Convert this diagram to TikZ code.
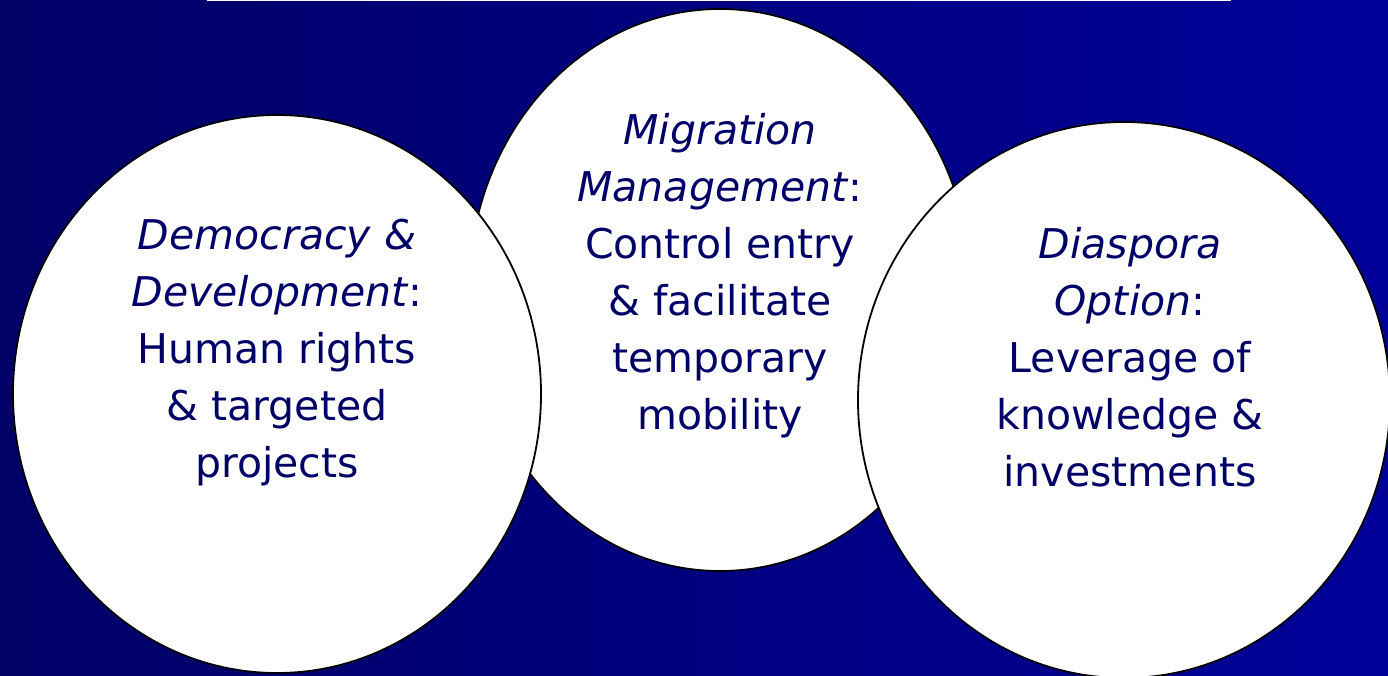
\documentclass[tikz,border=0pt]{standalone}
\usepackage{fontspec}
\setmainfont{DejaVu Sans}
\definecolor{bgleft}{RGB}{0,0,102}
\definecolor{bgright}{RGB}{0,0,153}
\definecolor{inktext}{RGB}{0,0,102}
\begin{document}
\begin{tikzpicture}[x=1pt,y=-1pt,
  bubble/.style={draw=black,line width=1.8pt,fill=white},
  bubbletext/.style={text=inktext,align=center,font=\fontsize{41}{57}\selectfont,inner sep=0pt}]
  % background
  \fill[left color=bgleft,right color=bgright] (0,0) rectangle (1388,676);
  \useasboundingbox (0,0) rectangle (1388,676);
  % thin rule along the top
  \fill[white] (207,0) rectangle (1231,1.5);
  % circles: the middle one sits underneath the two outer ones
  \draw[bubble] (720,290) ellipse [x radius=251pt, y radius=281pt];
  \draw[bubble] (277,394) ellipse [x radius=264pt, y radius=279pt];
  \draw[bubble] (1124,400) ellipse [x radius=266pt, y radius=278pt];
  % labels
  \node[bubbletext] (dem) at (277,353) {\textit{Democracy \&}\\\textit{Development}:\\Human rights\\\& targeted\\projects};
  \node[bubbletext] (mig) at (720,276) {\textit{Migration}\\\textit{Management}:\\Control entry\\\& facilitate\\temporary\\mobility};
  \node[bubbletext] (dia) at (1130,357) {\textit{Diaspora}\\\textit{Option}:\\Leverage of\\knowledge \&\\investments};
\end{tikzpicture}
\end{document}
